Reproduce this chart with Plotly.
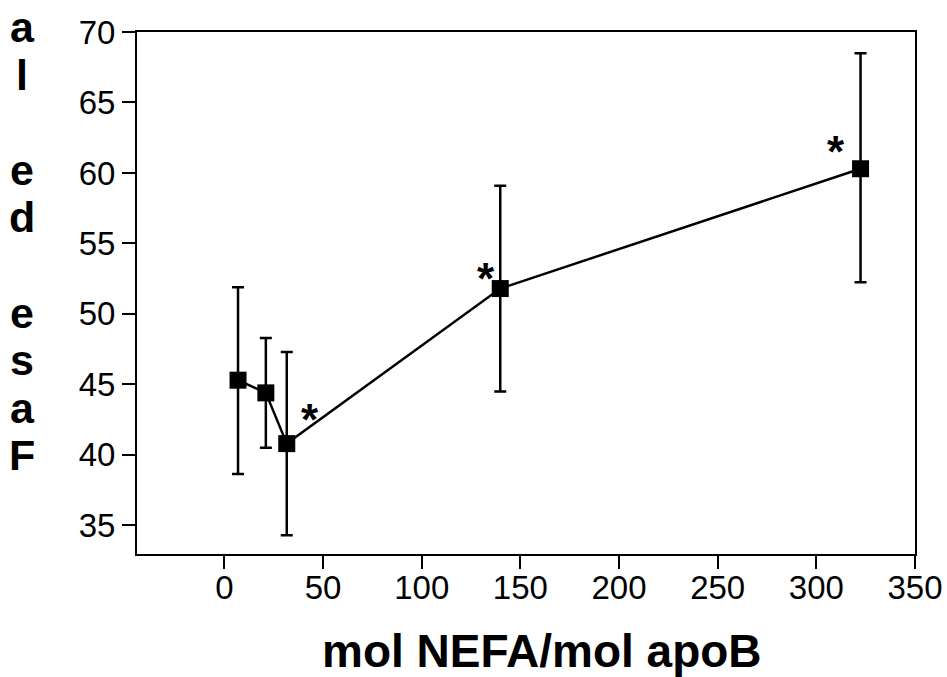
import plotly.graph_objects as go

x_vals = [6.9, 21.0, 31.6, 139.8, 322.4]
y_vals = [45.3, 44.4, 40.8, 51.8, 60.3]
err_plus = [6.6, 3.9, 6.5, 7.3, 8.2]
err_minus = [6.65, 3.9, 6.5, 7.3, 8.05]
star_flags = [False, False, True, True, True]
star_shift_x = [0, 0, 23, -14, -25]
star_shift_y = [0, 0, 24, 10, 17]

x_ticks = [0, 50, 100, 150, 200, 250, 300, 350]
y_ticks = [35, 40, 45, 50, 55, 60, 65, 70]
x_title = "mol NEFA/mol apoB"
y_title_letters = ["a", "l", "", "e", "d", "", "e", "s", "a", "F"]

fig = go.Figure()
fig.add_trace(go.Scatter(
    x=x_vals, y=y_vals, mode="lines+markers",
    line=dict(color="black", width=2.5),
    marker=dict(symbol="square", size=17, color="black"),
    error_y=dict(type="data", symmetric=False, array=err_plus, arrayminus=err_minus,
                 color="black", thickness=2.5, width=6),
    showlegend=False,
))

annotations = []
for xv, yv, f, sx, sy in zip(x_vals, y_vals, star_flags, star_shift_x, star_shift_y):
    if f:
        annotations.append(dict(x=xv, y=yv, xref="x", yref="y", text="<b>*</b>", showarrow=False,
                                xshift=sx, yshift=sy,
                                font=dict(family="Arial, Liberation Sans", size=44, color="black")))

plot_left, plot_right = 137, 915
plot_top, plot_bot = 32, 554
pw, ph = plot_right - plot_left, plot_bot - plot_top

top_px, step_px = 27, 47.6
for i, ch in enumerate(y_title_letters):
    if not ch:
        continue
    ypx = top_px + i * step_px
    annotations.append(dict(x=(22 - plot_left) / pw, y=(plot_bot - ypx) / ph,
                            xref="paper", yref="paper", text="<b>%s</b>" % ch,
                            showarrow=False, xanchor="center", yanchor="middle",
                            font=dict(family="Arial, Liberation Sans", size=43, color="black")))

annotations.append(dict(x=(542 - plot_left) / pw, y=(plot_bot - 651) / ph,
                        xref="paper", yref="paper", text="<b>%s</b>" % x_title,
                        showarrow=False, xanchor="center", yanchor="middle",
                        font=dict(family="Arial, Liberation Sans", size=46, color="black")))

fig.update_layout(
    width=947, height=677,
    margin=dict(l=plot_left, r=947 - plot_right, t=plot_top, b=677 - plot_bot),
    paper_bgcolor="white", plot_bgcolor="white",
    font=dict(family="Arial, Liberation Sans", color="black"),
    annotations=annotations,
    xaxis=dict(range=[-44.3, 350], tickvals=x_ticks, ticks="outside", ticklen=13, tickwidth=2,
               tickcolor="black", showline=True, linewidth=2, linecolor="black", mirror=True,
               showgrid=False, zeroline=False, tickfont=dict(size=33), automargin=False,
               ticklabelstandoff=-10),
    yaxis=dict(range=[32.97, 70], tickvals=y_ticks, ticks="outside", ticklen=13, tickwidth=2,
               tickcolor="black", showline=True, linewidth=2, linecolor="black", mirror=True,
               showgrid=False, zeroline=False, tickfont=dict(size=33), automargin=False),
)

fig.write_html("out.html")
